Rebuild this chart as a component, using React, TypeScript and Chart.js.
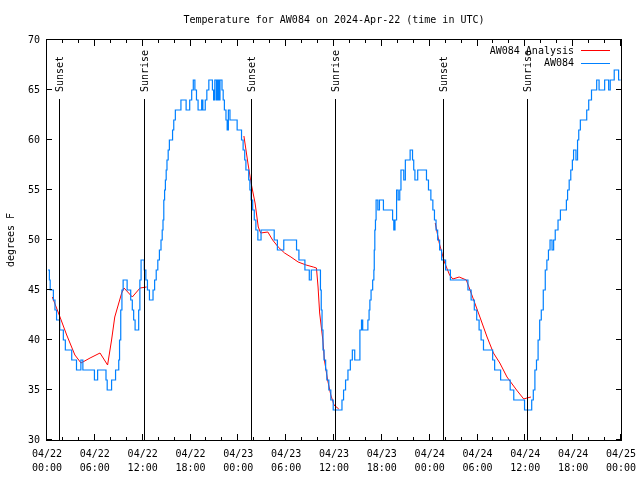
import { useEffect, useRef } from 'react';
import { Chart, registerables } from 'chart.js';

Chart.register(...registerables);

const FONT = '"DejaVu Sans Mono", "Liberation Mono", monospace';

const chartTitle = 'Temperature for AW084 on 2024-Apr-22 (time in UTC)';
const yAxisTitle = 'degrees F';
const seriesNames = ['AW084 Analysis', 'AW084'];
const seriesColors = ['#ff0000', '#0080ff'];

const xTickDates = ['04/22', '04/22', '04/22', '04/22', '04/23', '04/23', '04/23', '04/23', '04/24', '04/24', '04/24', '04/24', '04/25'];
const xTickTimes = ['00:00', '06:00', '12:00', '18:00', '00:00', '06:00', '12:00', '18:00', '00:00', '06:00', '12:00', '18:00', '00:00'];

const sunHours = [1.65, 12.3, 25.7, 36.25, 49.8, 60.35];
const sunLabels = ['Sunset', 'Sunrise', 'Sunset', 'Sunrise', 'Sunset', 'Sunrise'];

// hours since 04/22 00:00 UTC at which each reading level begins
const aw084Hours = [
  0.12, 0.3, 0.4, 0.8, 1.0, 1.2, 1.6, 2.05, 2.3, 3.1, 3.7, 4.25, 4.5, 5.95, 6.35, 7.4, 7.55, 8.1, 8.6, 9.0,
  9.1, 9.25, 9.4, 9.55, 10.05, 10.5, 10.7, 10.87, 11.05, 11.5, 11.65, 11.8, 12.2, 12.4, 12.6, 12.85, 13.3, 13.5, 13.7, 13.9,
  14.1, 14.3, 14.45, 14.55, 14.65, 14.75, 14.85, 14.95, 15.05, 15.2, 15.35, 15.75, 15.9, 16.1, 16.8, 17.45, 17.9, 18.15, 18.35, 18.55,
  18.75, 18.95, 19.4, 19.55, 19.85, 20.05, 20.3, 20.75, 20.9, 21.05, 21.25, 21.4, 21.55, 21.7, 21.95, 22.1, 22.25, 22.45, 22.6, 22.75,
  22.95, 23.85, 24.4, 24.6, 24.8, 24.95, 25.3, 25.45, 25.6, 25.8, 26.0, 26.2, 26.45, 26.85, 28.5, 28.9, 29.7, 31.3, 31.6, 32.35,
  32.9, 33.15, 34.3, 34.4, 34.5, 34.62, 34.75, 34.95, 35.1, 35.35, 35.6, 35.9, 37.0, 37.2, 37.45, 37.75, 38.05, 38.3, 38.6, 39.25,
  39.45, 39.6, 40.25, 40.4, 40.5, 40.65, 40.85, 41.0, 41.05, 41.12, 41.2, 41.28, 41.5, 41.7, 42.2, 43.35, 43.5, 43.65, 43.85, 44.05,
  44.25, 44.4, 44.75, 44.95, 45.55, 45.85, 46.0, 46.15, 46.5, 47.6, 47.85, 48.15, 48.4, 48.6, 48.8, 49.0, 49.25, 49.5, 50.0, 50.6,
  52.8, 53.2, 53.6, 53.9, 54.2, 54.45, 54.75, 55.9, 56.15, 56.9, 58.1, 58.55, 59.9, 60.8, 61.0, 61.2, 61.4, 61.6, 61.8, 62.0,
  62.25, 62.5, 62.7, 62.9, 63.1, 63.35, 63.55, 63.75, 64.1, 64.4, 65.15, 65.3, 65.5, 65.7, 65.9, 66.05, 66.35, 66.55, 66.7, 66.9,
  67.7, 67.95, 68.3, 68.95, 69.25, 69.95, 70.45, 70.65, 71.15, 71.7, 71.95,
];
const aw084Temps = [
  47, 46, 45, 44, 43, 42, 41, 40, 39, 38, 37, 38, 37, 36, 37, 36, 35, 36, 37, 38,
  40, 43, 45, 46, 45, 44, 43, 42, 41, 43, 46, 48, 47, 46, 45, 44, 45, 46, 47, 48,
  49, 50, 51, 52, 54, 55, 56, 57, 58, 59, 60, 61, 62, 63, 64, 63, 64, 65, 66, 65,
  64, 63, 64, 63, 64, 65, 66, 65, 64, 66, 64, 66, 64, 66, 65, 64, 63, 62, 61, 63,
  62, 61, 60, 59, 58, 57, 56, 55, 54, 53, 52, 51, 50, 51, 50, 49, 50, 49, 48, 47,
  46, 47, 45, 43, 41, 39, 38, 37, 36, 35, 34, 33, 34, 35, 36, 37, 38, 39, 38, 41,
  42, 41, 42, 43, 44, 45, 46, 47, 49, 51, 52, 54, 53, 54, 53, 52, 51, 52, 55, 54,
  55, 57, 56, 58, 59, 58, 57, 56, 57, 56, 55, 54, 53, 52, 51, 50, 49, 48, 47, 46,
  45, 44, 43, 42, 41, 40, 39, 38, 37, 36, 35, 34, 33, 34, 35, 37, 38, 40, 42, 43,
  45, 47, 48, 49, 50, 49, 50, 51, 52, 53, 54, 55, 56, 57, 58, 59, 58, 60, 61, 62,
  63, 64, 65, 66, 65, 66, 65, 66, 67, 66, 66,
];

// analysis series, null marks a gap between overnight segments
const analysisHours = [
  0.67, 1.63, 2.47, 3.5, 4.27, 5.4, 6.65, 7.6, 8.1, 8.5, 9.37, 9.66, 10.7, 11.67, 12.5,
  12.6,
  24.7, 25.2, 25.6, 26.1, 26.5, 26.8, 27.7, 28.3, 29.0, 29.8, 30.6, 31.5, 32.5, 33.4, 33.8, 34.0, 34.2, 34.6, 34.8, 35.2, 35.6, 36.0, 36.6,
  36.7,
  48.7, 49.2, 49.85, 50.5, 50.9, 51.7, 52.6, 53.2, 54.3, 55.2, 56.0, 56.8, 57.7, 58.9, 59.8, 60.2, 60.7,
];
const analysisTemps = [
  44.3, 42.3, 40.5, 38.5, 37.7, 38.2, 38.7, 37.5, 40.0, 42.3, 44.7, 45.2, 44.3, 45.2, 45.3,
  null,
  60.4, 57.7, 55.7, 53.7, 51.3, 50.7, 50.8, 50.0, 49.3, 48.7, 48.3, 47.8, 47.5, 47.3, 47.2, 45.3, 42.7, 40.0, 38.0, 36.0, 34.5, 33.5, 33.1,
  null,
  51.7, 49.7, 47.8, 46.5, 46.1, 46.3, 46.0, 44.7, 42.3, 40.3, 38.7, 37.7, 36.3, 35.0, 34.1, 34.2, 34.3,
];

const decorPlugin = {
  id: 'decor',
  afterDraw(chart: any) {
    const { ctx, chartArea } = chart;
    const { left, right, top, bottom } = chartArea;
    const xs = chart.scales.x;
    const ys = chart.scales.y;
    ctx.save();
    ctx.strokeStyle = '#000';
    ctx.fillStyle = '#000';
    ctx.lineWidth = 1;

    // frame
    ctx.strokeRect(left - 0.5, top - 0.5, right - left + 1, bottom - top + 1);

    // inward ticks
    ctx.beginPath();
    for (let h = 0; h <= 72; h += 2) {
      const px = Math.round(xs.getPixelForValue(h)) - 0.5;
      const len = h % 6 === 0 ? 6 : 3;
      ctx.moveTo(px, bottom);
      ctx.lineTo(px, bottom - len);
      ctx.moveTo(px, top);
      ctx.lineTo(px, top + len);
    }
    for (let v = 30; v <= 70; v += 5) {
      const py = Math.round(ys.getPixelForValue(v)) - 0.5;
      ctx.moveTo(left, py);
      ctx.lineTo(left + 5, py);
      ctx.moveTo(right, py);
      ctx.lineTo(right - 5, py);
    }
    ctx.stroke();

    // sunrise / sunset markers
    ctx.font = `10px ${FONT}`;
    sunHours.forEach((h, i) => {
      const px = Math.round(xs.getPixelForValue(h)) - 0.5;
      ctx.beginPath();
      ctx.moveTo(px, top + 59);
      ctx.lineTo(px, bottom);
      ctx.stroke();
      ctx.save();
      ctx.translate(px + 0.5, top + 52);
      ctx.rotate(-Math.PI / 2);
      ctx.textAlign = 'left';
      ctx.textBaseline = 'middle';
      ctx.fillText(sunLabels[i], 0, 0);
      ctx.restore();
    });

    // legend
    ctx.font = `10px ${FONT}`;
    ctx.textAlign = 'right';
    ctx.textBaseline = 'middle';
    seriesNames.forEach((name, i) => {
      const y = top + 11 + i * 12.5;
      ctx.fillStyle = '#000';
      ctx.fillText(name, right - 47, y);
      ctx.strokeStyle = seriesColors[i];
      ctx.beginPath();
      ctx.moveTo(right - 40, Math.round(y) - 0.5);
      ctx.lineTo(right - 11, Math.round(y) - 0.5);
      ctx.stroke();
    });

    // title
    ctx.fillStyle = '#000';
    ctx.textAlign = 'center';
    ctx.textBaseline = 'middle';
    ctx.fillText(chartTitle, (left + right) / 2, 20);

    // y axis title
    ctx.save();
    ctx.translate(11, (top + bottom) / 2);
    ctx.rotate(-Math.PI / 2);
    ctx.textAlign = 'center';
    ctx.textBaseline = 'middle';
    ctx.fillText(yAxisTitle, 0, 0);
    ctx.restore();

    ctx.restore();
  },
};

export default function App() {
  const canvasRef = useRef<HTMLCanvasElement | null>(null);

  useEffect(() => {
    if (!canvasRef.current) return;
    const chart = new Chart(canvasRef.current, {
      type: 'line',
      data: {
        datasets: [
          {
            label: seriesNames[1],
            data: aw084Hours.map((h, i) => ({ x: h, y: aw084Temps[i] })),
            borderColor: seriesColors[1],
            borderWidth: 1.2,
            pointRadius: 0,
            stepped: true,
            order: 0,
          },
          {
            label: seriesNames[0],
            data: analysisHours.map((h, i) => ({ x: h, y: analysisTemps[i] as any })),
            borderColor: seriesColors[0],
            borderWidth: 1,
            pointRadius: 0,
            spanGaps: false,
            order: 1,
          },
        ],
      },
      options: {
        responsive: false,
        animation: false,
        devicePixelRatio: 1,
        layout: { padding: { top: 40, right: 19, left: 0, bottom: 0 } },
        plugins: {
          legend: { display: false },
          tooltip: { enabled: false },
          title: { display: false },
        },
        scales: {
          x: {
            type: 'linear',
            min: 0,
            max: 72,
            grid: { display: false, drawTicks: false, tickLength: 0 },
            border: { display: false },
            ticks: {
              stepSize: 6,
              autoSkip: false,
              maxRotation: 0,
              color: '#000',
              padding: 7,
              font: { family: FONT, size: 10, lineHeight: 1.4 },
              callback: (v: any) => {
                const i = Math.round(Number(v) / 6);
                return [xTickDates[i], xTickTimes[i]];
              },
            },
            afterFit: (s: any) => {
              s.height = 40;
              s.paddingLeft = 0;
              s.paddingRight = 0;
            },
          },
          y: {
            min: 30,
            max: 70,
            grid: { display: false, drawTicks: false, tickLength: 0 },
            border: { display: false },
            ticks: {
              stepSize: 5,
              color: '#000',
              padding: 7,
              font: { family: FONT, size: 10 },
            },
            afterFit: (s: any) => {
              s.width = 47;
              s.paddingTop = 0;
              s.paddingBottom = 0;
            },
          },
        },
      },
      plugins: [decorPlugin],
    });
    return () => chart.destroy();
  }, []);

  return (
    <div style={{ position: 'fixed', left: 0, top: 0, width: 640, height: 480, background: '#fff' }}>
      <canvas ref={canvasRef} width={640} height={480} style={{ display: 'block' }} />
    </div>
  );
}
